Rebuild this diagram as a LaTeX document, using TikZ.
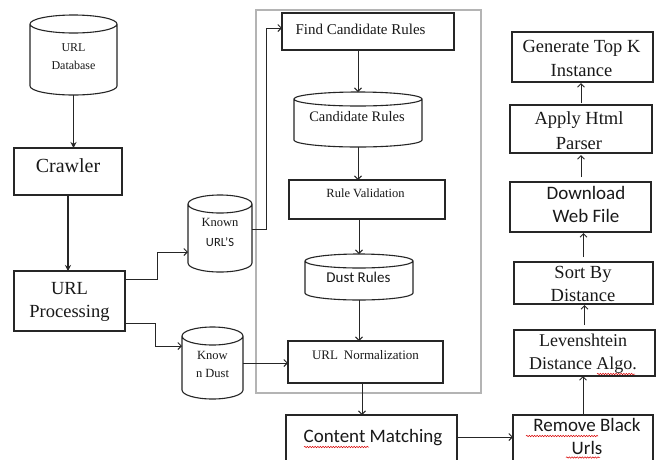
\documentclass[tikz,border=0pt]{standalone}
\usepackage{fontspec}
\setmainfont{Liberation Serif}
\newfontfamily\calib{Carlito}
\usetikzlibrary{arrows.meta,decorations.pathmorphing}

\definecolor{boxline}{HTML}{262626}
\definecolor{framegray}{HTML}{B4B4B4}

% database drum: node name, x radius, y radius
\newcommand\dbdrum[3]{%
  \draw[cyl] ([yshift=-#3]#1.north west) -- ([yshift=#3]#1.south west)
     arc[start angle=180,end angle=360,x radius=#2,y radius=#3]
     -- ([yshift=-#3]#1.north east)
     arc[start angle=0,end angle=180,x radius=#2,y radius=#3]
     arc[start angle=180,end angle=360,x radius=#2,y radius=#3];}

\begin{document}
\begin{tikzpicture}[x=1pt,y=1pt,
  box/.style={draw=boxline, line width=1.1pt, rectangle, inner sep=0pt, outer sep=0pt},
  slot/.style={rectangle, inner sep=0pt, outer sep=0pt},
  cyl/.style={draw=boxline, line width=1.1pt},
  frame/.style={draw=framegray, line width=1.2pt, rectangle, inner sep=0pt, outer sep=0pt},
  txt/.style={inner sep=0pt, align=center, text=black!90},
  conn/.style={draw=boxline, line width=1pt, -{Straight Barb[length=3.5pt,width=7pt]}},
  fconn/.style={draw=boxline, line width=1.2pt, -{Stealth[length=6pt,width=6pt]}},
  squig/.style={draw=red!85!black, line width=0.5pt, decorate,
                decoration={snake, amplitude=0.7pt, segment length=2.6pt}}
]
\useasboundingbox (0,0) rectangle (659,-459);
\clip (0,0) rectangle (659,-459);
\fill[white] (0,0) rectangle (659,-459);

% ---------- left column ----------
\node[slot, minimum width=87, minimum height=80] (urldb) at (73.5,-55) {};
\dbdrum{urldb}{43.5pt}{9pt}
\node[txt, font=\fontsize{12}{18}\selectfont] (urldbT) at (73.5,-57) {URL\\Database};

\node[box, minimum width=108, minimum height=47] (crawler) at (68,-171.5) {};
\node[txt, font=\fontsize{20}{24}\selectfont] (crawlerT) at (68,-166) {Crawler};

\node[box, minimum width=111, minimum height=60] (urlproc) at (69.5,-301) {};
\node[txt, font=\fontsize{18.5}{23}\selectfont] (urlprocT) at (69.5,-301.5) {URL\\Processing};

\node[slot, minimum width=64, minimum height=77] (knownurl) at (220,-233.5) {};
\dbdrum{knownurl}{32pt}{9pt}
\node[txt, font=\fontsize{12.5}{20}\selectfont] (knownurlT) at (220,-232) {Known\\{\calib URL’S}};

\node[slot, minimum width=61, minimum height=72] (knowndust) at (212.5,-363) {};
\dbdrum{knowndust}{30.5pt}{9pt}
\node[txt, font=\fontsize{12.5}{18}\selectfont] (knowndustT) at (212.5,-364) {Know\\n Dust};

% ---------- rule mining stage ----------
\node[frame, minimum width=225, minimum height=383] (stage) at (368.5,-201.5) {};

\node[box, minimum width=172, minimum height=37] (fcr) at (368,-31.5) {};
\node[txt, font=\fontsize{15}{18}\selectfont] (fcrT) at (360.5,-29) {Find Candidate Rules};

\node[slot, minimum width=128, minimum height=55] (candrules) at (358,-119.5) {};
\dbdrum{candrules}{64pt}{7pt}
\node[txt, font=\fontsize{14.5}{18}\selectfont] (candrulesT) at (357,-117) {Candidate Rules};

\node[box, minimum width=156, minimum height=39] (rv) at (367,-199.5) {};
\node[txt, font=\fontsize{12.5}{16}\selectfont] (rvT) at (365.5,-193) {Rule Validation};

\node[slot, minimum width=108, minimum height=46] (dustrules) at (359,-277) {};
\dbdrum{dustrules}{54pt}{7pt}
\node[txt, font=\calib\fontsize{15}{18}\selectfont] (dustrulesT) at (358.5,-277) {Dust Rules};

\node[box, minimum width=155, minimum height=42] (urlnorm) at (365.5,-362) {};
\node[txt, font=\fontsize{13}{16}\selectfont] (urlnormT) at (365.5,-355) {URL\hspace{0.45em}Normalization};

\node[box, minimum width=171, minimum height=65] (cm) at (371.5,-447.5) {};
\node[txt, font=\calib\fontsize{19}{23}\selectfont] (cmT) at (373,-438) {Content Matching};

% ---------- right column ----------
\node[box, minimum width=140, minimum height=65] (rbu) at (583,-447.5) {};
\node[txt, font=\calib\fontsize{19}{23}\selectfont] (rbuT) at (587,-436.5) {Remove Black\\Urls};

\node[box, minimum width=141, minimum height=46] (lev) at (584.5,-353) {};
\node[txt, font=\fontsize{18}{23}\selectfont] (levT) at (583,-353.5) {Levenshtein\\Distance Algo.};

\node[box, minimum width=139, minimum height=42] (sort) at (583.5,-283) {};
\node[txt, font=\fontsize{18.5}{23}\selectfont] (sortT) at (583,-283.5) {Sort By\\Distance};

\node[box, minimum width=141, minimum height=50] (down) at (580.5,-207) {};
\node[txt, font=\calib\fontsize{19}{23}\selectfont] (downT) at (586,-204.5) {Download\\Web File};

\node[box, minimum width=142, minimum height=48] (apply) at (581,-129) {};
\node[txt, font=\fontsize{18.5}{25}\selectfont] (applyT) at (579,-130.5) {Apply Html\\Parser};

\node[box, minimum width=141, minimum height=50] (gen) at (582.5,-57) {};
\node[txt, font=\fontsize{18.5}{24}\selectfont] (genT) at (581.5,-58) {Generate Top K\\Instance};

% ---------- connectors ----------
\draw[fconn] (urldb.south) -- (urldb.south |- crawler.north);
\draw[fconn] (crawler.south) -- (crawler.south |- urlproc.north);

\draw[conn] ([yshift=22pt]urlproc.east) -- ++(32,0) |- ([yshift=-18.5pt]knownurl.west);
\draw[conn] ([yshift=-22pt]urlproc.east) -- ++(30,0) |- ([yshift=17pt]knowndust.west);
\draw[conn] (knowndust.east) -- (knowndust.east -| urlnorm.west);
\draw[conn] ([yshift=4.5pt]knownurl.east) -- ++(14,0) |- ([yshift=3.5pt]fcr.west);

\draw[conn] (candrules.north |- fcr.south) -- (candrules.north);
\draw[conn] (candrules.south) -- (candrules.south |- rv.north);
\draw[conn] (dustrules.north |- rv.south) -- (dustrules.north);
\draw[conn] (dustrules.south) -- (dustrules.south |- urlnorm.north);
\draw[conn] ([xshift=-3.5pt]urlnorm.south) -- ([xshift=-3.5pt]urlnorm.south |- cm.north);

\draw[conn] ([yshift=10.5pt]cm.east) -- ([yshift=10.5pt]rbu.west);
\draw[conn] (rbu.north) -- (rbu.north |- lev.south);
\draw[conn] ([yshift=5pt]lev.north) -- ([yshift=-1pt]lev.north |- sort.south);
\draw[conn] ([yshift=5pt]sort.north) -- ([yshift=-1pt]sort.north |- down.south);
\draw[conn] ([yshift=5pt]apply.south |- down.north) -- ([yshift=-2pt]apply.south);
\draw[conn] ([yshift=2pt]apply.north) -- ([yshift=-1pt]apply.north |- gen.south);

% ---------- spelling marks ----------
\draw[squig] (304,-447) -- (369,-447);
\draw[squig] (526,-436) -- (598,-436);
\draw[squig] (566,-457.5) -- (600,-457.5);
\draw[squig] (597,-374) -- (635,-374);
\end{tikzpicture}
\end{document}
